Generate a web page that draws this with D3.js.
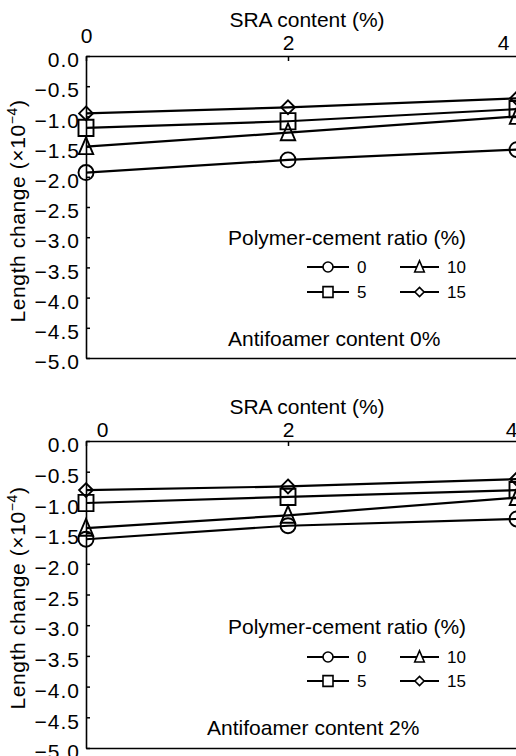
<!DOCTYPE html>
<html>
<head>
<meta charset="utf-8">
<script src="https://cdn.jsdelivr.net/npm/d3@7"></script>
<style>
  html, body { margin: 0; padding: 0; background: #fff; }
  svg { display: block; font-family: "Liberation Sans", Arial, Helvetica, sans-serif; }
</style>
</head>
<body>
<svg id="chart" width="516" height="756"></svg>
<script>
// SRA content (%) on the x axis
const sraContent = [0, 2, 4];
const xTickLabels = ["0", "2", "4"];
const yTickValues = [0, -0.5, -1.0, -1.5, -2.0, -2.5, -3.0, -3.5, -4.0, -4.5, -5.0];

// Polymer-cement ratio (%) series names and their marker shapes
const polymerRatios = ["0", "5", "10", "15"];
const markerShapes = ["circle", "square", "triangle", "diamond"];

// Length change (x10^-4), antifoamer content 0%
const af0_pc0  = [-1.93, -1.72, -1.55];
const af0_pc5  = [-1.19, -1.08, -0.88];
const af0_pc10 = [-1.50, -1.27, -1.00];
const af0_pc15 = [-0.95, -0.85, -0.70];

// Length change (x10^-4), antifoamer content 2%
const af2_pc0  = [-1.60, -1.38, -1.27];
const af2_pc5  = [-1.01, -0.91, -0.80];
const af2_pc10 = [-1.42, -1.21, -0.92];
const af2_pc15 = [-0.80, -0.74, -0.62];

const panelNotes = ["Antifoamer content 0%", "Antifoamer content 2%"];
const xTitle = "SRA content (%)";
const legendTitle = "Polymer-cement ratio (%)";

// ---- layout ----
const FONT = 21;
const svg = d3.select("#chart");

// x positions of 0, 2 and 4 % SRA along the plot width
const x = d3.scaleLinear().domain(sraContent).range([86, 288, 517]);

const panels = [
  { series: [af0_pc0, af0_pc5, af0_pc10, af0_pc15], note: panelNotes[0],
    top: 56, bottom: 358, titleY: 27, tickPad: 6, zeroShift: [0, -7], fourShift: -14,
    legendY: 245, rowY: [267, 292], noteX: 228, noteY: 346, ylabelY: 211 },
  { series: [af2_pc0, af2_pc5, af2_pc10, af2_pc15], note: panelNotes[1],
    top: 441, bottom: 748, titleY: 414, tickPad: 4, zeroShift: [16, 0], fourShift: -6,
    legendY: 634, rowY: [657, 681], noteX: 207, noteY: 735, ylabelY: 598 }
];

// Open marker shapes; size is the square of the nominal marker width
const shapeTypes = {
  circle: { draw(ctx, size) { const r = Math.sqrt(size) / 2; ctx.moveTo(r, 0); ctx.arc(0, 0, r, 0, 2 * Math.PI); } },
  square: { draw(ctx, size) { const w = Math.sqrt(size); ctx.rect(-w / 2, -w * 0.54, w, w * 1.08); } },
  triangle: { draw(ctx, size) { const w = Math.sqrt(size);
    ctx.moveTo(0, -w * 0.62); ctx.lineTo(w * 0.48, w * 0.5); ctx.lineTo(-w * 0.48, w * 0.5); ctx.closePath(); } },
  diamond: { draw(ctx, size) { const w = Math.sqrt(size);
    ctx.moveTo(0, -w * 0.46); ctx.lineTo(w * 0.46, 0); ctx.lineTo(0, w * 0.46); ctx.lineTo(-w * 0.46, 0); ctx.closePath(); } }
};
const marker = (shape, w) => d3.symbol().type(shapeTypes[shape]).size(w * w)();

// legend slot for each series: [column, row]
const legendSlots = [[0, 0], [0, 1], [1, 0], [1, 1]];
const legendCols = [[307, 349], [400, 439]];

panels.forEach(p => {
  const y = d3.scaleLinear().domain([0, -5]).range([p.top, p.bottom]);
  const g = svg.append("g");

  // left axis with inward ticks
  const yAxis = g.append("g")
    .attr("transform", `translate(${x(0)},0)`)
    .call(d3.axisLeft(y).tickValues(yTickValues).tickFormat(d3.format(".1f"))
      .tickSize(-4).tickSizeOuter(0).tickPadding(6));
  yAxis.selectAll("text").attr("y", 4).attr("font-size", FONT).attr("letter-spacing", 1)
    .attr("fill", "#000");

  // top axis carrying the SRA ticks
  const xAxis = g.append("g")
    .attr("transform", `translate(0,${p.top})`)
    .call(d3.axisTop(x).tickValues(sraContent).tickFormat((d, i) => xTickLabels[i])
      .tickSize(-5).tickSizeOuter(0).tickPadding(p.tickPad));
  xAxis.selectAll("text").attr("font-size", FONT).attr("fill", "#000")
    .attr("dx", d => d === 0 ? p.zeroShift[0] : d === 4 ? p.fourShift : 0)
    .attr("dy", d => d === 0 ? p.zeroShift[1] : 0);

  // bottom frame line
  g.append("g")
    .attr("transform", `translate(0,${p.bottom})`)
    .call(d3.axisBottom(x).tickValues([]).tickSizeOuter(0));

  g.selectAll(".domain").attr("stroke", "#000").attr("stroke-width", 1.6);
  g.selectAll(".tick line").attr("stroke", "#000").attr("stroke-width", 1.5);
  g.selectAll("g").attr("font-family", null);

  // axis titles
  g.append("text").attr("x", 307).attr("y", p.titleY).attr("text-anchor", "middle")
    .attr("font-size", FONT).text(xTitle);

  const yl = g.append("text")
    .attr("transform", `translate(25,${p.ylabelY}) rotate(-90)`)
    .attr("text-anchor", "middle").attr("font-size", FONT).attr("letter-spacing", 0.6);
  yl.append("tspan").text("Length change (\u00d710");
  yl.append("tspan").attr("font-size", 14).attr("dy", -8).text("\u22124");
  yl.append("tspan").attr("dy", 8).text(")");

  // series lines
  const line = d3.line().x((d, j) => x(sraContent[j])).y(d => y(d));
  g.selectAll("path.series").data(p.series).join("path")
    .attr("class", "series")
    .attr("d", line)
    .attr("fill", "none").attr("stroke", "#000").attr("stroke-width", 2.2);

  // series markers
  p.series.forEach((vals, i) => {
    g.selectAll(null).data(vals).join("path")
      .attr("d", marker(markerShapes[i], 15))
      .attr("transform", (d, j) => `translate(${x(sraContent[j])},${y(d)})`)
      .attr("fill", "none").attr("stroke", "#000").attr("stroke-width", 1.9);
  });

  // legend
  g.append("text").attr("x", 228).attr("y", p.legendY).attr("font-size", FONT).text(legendTitle);
  polymerRatios.forEach((name, i) => {
    const [c, r] = legendSlots[i];
    const [x0, x1] = legendCols[c];
    const cy = p.rowY[r];
    g.append("line").attr("x1", x0).attr("x2", x1).attr("y1", cy).attr("y2", cy)
      .attr("stroke", "#000").attr("stroke-width", 2);
    g.append("path").attr("d", marker(markerShapes[i], 10))
      .attr("transform", `translate(${(x0 + x1) / 2},${cy})`)
      .attr("fill", "#fff").attr("stroke", "#000").attr("stroke-width", 1.6);
    g.append("text").attr("x", x1 + 8).attr("y", cy + 6).attr("font-size", 17).text(name);
  });

  // panel note
  g.append("text").attr("x", p.noteX).attr("y", p.noteY).attr("font-size", FONT).text(p.note);
});
</script>
</body>
</html>
